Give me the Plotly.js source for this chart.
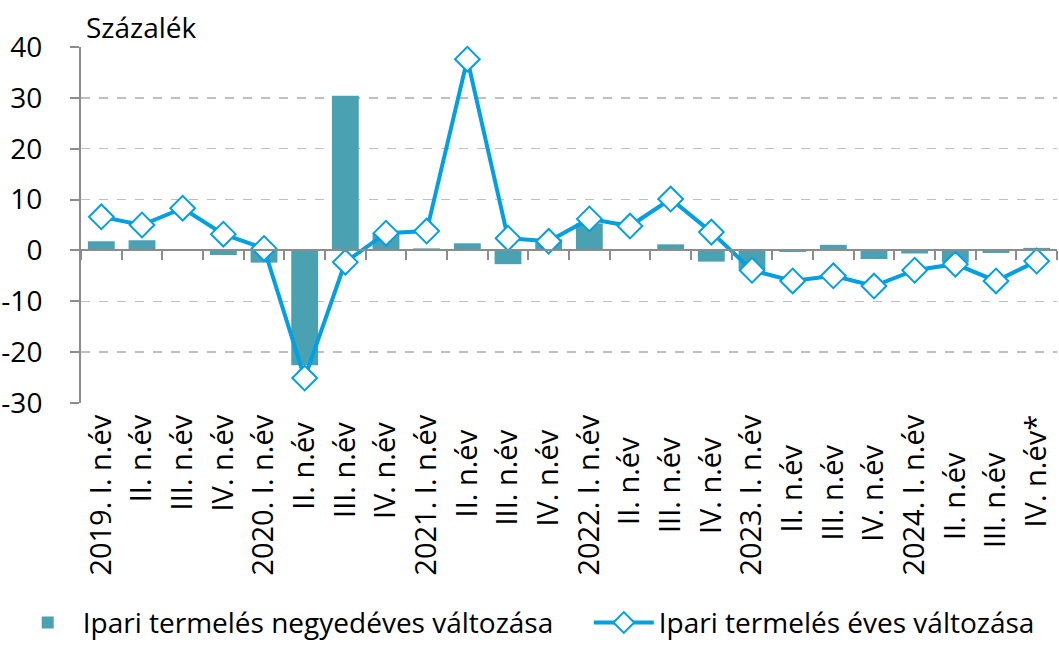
<!DOCTYPE html>
<html><head><meta charset="utf-8">
<script src="https://cdn.plot.ly/plotly-3.0.1.min.js"></script>
<style>html,body{margin:0;padding:0;background:#fff;}#chart{width:1059px;height:646px;}</style>
</head><body><div id="chart"></div>
<script>
const categories = [
  "2019. I. n.év","II. n.év","III. n.év","IV. n.év",
  "2020. I. n.év","II. n.év ","III. n.év ","IV. n.év ",
  "2021. I. n.év","II. n.év  ","III. n.év  ","IV. n.év  ",
  "2022. I. n.év","II. n.év   ","III. n.év   ","IV. n.év   ",
  "2023. I. n.év","II. n.év    ","III. n.év    ","IV. n.év    ",
  "2024. I. n.év","II. n.év     ","III. n.év     ","IV. n.év*"
];
const quarterlyChange = [1.8, 2.0, 0.0, -0.9, -2.4, -22.6, 30.4, 3.5, 0.4, 1.4, -2.7, 2.2,
  5.3, 0.0, 1.2, -2.2, -3.7, -0.3, 1.1, -1.7, -0.6, -2.4, -0.5, 0.5];
const annualChange = [6.6, 5.0, 8.3, 3.2, 0.4, -25.1, -2.3, 3.4, 3.8, 37.6, 2.4, 1.8,
  6.2, 4.8, 10.1, 3.6, -3.9, -6.0, -5.0, -7.0, -3.9, -2.7, -6.0, -2.1];
const seriesNames = ["Ipari termelés negyedéves változása", "Ipari termelés éves változása"];
const yTitle = "Százalék";
const yTickVals = [-30, -20, -10, 0, 10, 20, 30, 40];
const yTickText = ["-30", "-20", "-10", "0", "10", "20", "30", "40"];

const FONT = "'Open Sans', 'Noto Sans', sans-serif";
const yMin = -30, yMax = 40;
const zeroPos = (0 - yMin) / (yMax - yMin);

const traces = [
  {type: "bar", x: categories, y: quarterlyChange, name: seriesNames[0],
   marker: {color: "#4AA1B2"}, xaxis: "x", yaxis: "y", legend: "legend"},
  {type: "scatter", mode: "lines+markers", x: categories, y: annualChange, name: seriesNames[1],
   line: {color: "#00A0E3", width: 4},
   marker: {symbol: "diamond", size: 19, color: "#ffffff", line: {color: "#00A0E3", width: 2}},
   xaxis: "x", yaxis: "y", cliponaxis: false, legend: "legend2"},
  {type: "scatter", mode: "markers", x: categories, y: categories.map(() => null),
   xaxis: "x2", yaxis: "y", showlegend: false, hoverinfo: "skip", marker: {opacity: 0}}
];

const legendBase = {orientation: "h", xref: "container", yref: "container", y: 0.036,
  xanchor: "left", yanchor: "middle", font: {size: 28, family: FONT}, itemwidth: 60};

const layout = {
  width: 1059, height: 646,
  margin: {l: 81, r: 2, t: 47, b: 243},
  paper_bgcolor: "#fff", plot_bgcolor: "#fff",
  font: {family: FONT, color: "#000", size: 27},
  barmode: "overlay", bargap: 0.34,
  showlegend: true,
  legend: Object.assign({}, legendBase, {x: 0.012}),
  legend2: Object.assign({}, legendBase, {x: 0.556}),
  xaxis: {type: "category", range: [-0.5, 23.5], anchor: "free", position: zeroPos,
    showline: true, linecolor: "#8C8C8C", linewidth: 2,
    ticks: "outside", tickson: "boundaries", ticklen: 9, tickwidth: 2, tickcolor: "#8C8C8C",
    showticklabels: false, showgrid: false, zeroline: false, fixedrange: true},
  xaxis2: {type: "category", overlaying: "x", matches: "x", anchor: "y", side: "bottom",
    range: [-0.5, 23.5], showline: false, ticks: "", showgrid: false, zeroline: false,
    tickangle: -90, tickfont: {size: 29, family: FONT}, ticklabelstandoff: 5},
  yaxis: {range: [yMin, yMax], tickmode: "array", tickvals: yTickVals, ticktext: yTickText,
    showline: true, linecolor: "#8C8C8C", linewidth: 2,
    ticks: "outside", ticklen: 9, tickwidth: 2, tickcolor: "#8C8C8C",
    showgrid: true, gridcolor: "#BFBFBF", gridwidth: 1.5, griddash: "dash",
    zeroline: false, tickfont: {size: 28, family: FONT}, ticklabelstandoff: 22},
  annotations: [{text: yTitle, xref: "paper", yref: "paper", x: 0.003, y: 1, yshift: -1,
    xanchor: "left", yanchor: "bottom", showarrow: false, font: {size: 28, family: FONT}}]
};

Plotly.newPlot("chart", traces, layout, {staticPlot: true, displayModeBar: false});
</script>
</body></html>
